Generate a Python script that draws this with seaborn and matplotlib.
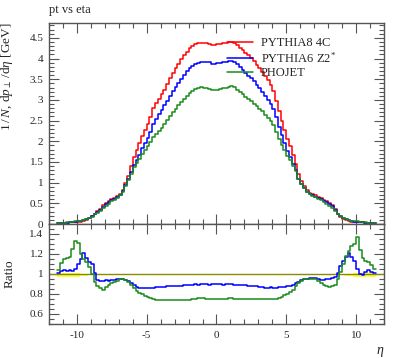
import numpy as np
import pandas as pd
import seaborn as sns
import matplotlib.pyplot as plt
from matplotlib.lines import Line2D
from matplotlib.ticker import MultipleLocator, FuncFormatter

# eta binning: 0.2 wide bins from -11.4 to 11.4
eta_edges = np.round(np.arange(-11.4, 11.41, 0.2), 2)

names = ["PYTHIA8 4C", r"PYTHIA6 Z2$^{*}$", "PHOJET"]
colors = ["#ff0000", "#0000ff", "#1a8c1a"]

# mean pt per eta bin [GeV]
pythia8 = [0.02, 0.02, 0.03, 0.03, 0.04, 0.05, 0.05, 0.06, 0.06, 0.08,
           0.10, 0.14, 0.19, 0.25, 0.31, 0.37, 0.45, 0.51, 0.55, 0.60,
           0.64, 0.68, 0.73, 0.83, 1.00, 1.17, 1.40, 1.62, 1.78, 1.95,
           2.12, 2.28, 2.42, 2.58, 2.80, 2.93, 3.02, 3.14, 3.25, 3.38,
           3.52, 3.66, 3.76, 3.88, 3.98, 4.08, 4.17, 4.25, 4.30, 4.34,
           4.37, 4.38, 4.37, 4.38, 4.36, 4.32, 4.33,
           4.34, 4.35, 4.37, 4.38, 4.39, 4.40, 4.38, 4.32, 4.26, 4.20,
           4.14, 4.08, 4.01, 3.93, 3.85, 3.77, 3.68, 3.58, 3.47, 3.37,
           3.22, 2.98, 2.72, 2.48, 2.28, 2.05, 1.88, 1.66, 1.45, 1.20,
           1.04, 0.92, 0.82, 0.76, 0.72, 0.69, 0.66, 0.63, 0.59, 0.55,
           0.50, 0.45, 0.36, 0.25, 0.18, 0.13, 0.10, 0.08, 0.06, 0.06,
           0.05, 0.05, 0.04, 0.03, 0.03, 0.02, 0.02]

pythia6 = [0.02, 0.02, 0.03, 0.03, 0.04, 0.05, 0.05, 0.07, 0.07, 0.10,
           0.12, 0.15, 0.19, 0.24, 0.29, 0.35, 0.42, 0.48, 0.52, 0.57,
           0.61, 0.65, 0.70, 0.79, 0.94, 1.08, 1.26, 1.42, 1.55, 1.68,
           1.83, 1.97, 2.09, 2.23, 2.41, 2.55, 2.66, 2.76, 2.87, 2.98,
           3.10, 3.22, 3.31, 3.42, 3.51, 3.60, 3.69, 3.76, 3.82, 3.87,
           3.90, 3.91, 3.92, 3.92, 3.91, 3.88, 3.88,
           3.89, 3.90, 3.91, 3.92, 3.93, 3.94, 3.92, 3.86, 3.79, 3.72,
           3.65, 3.59, 3.52, 3.45, 3.36, 3.28, 3.19, 3.09, 2.99, 2.90,
           2.78, 2.58, 2.35, 2.14, 1.97, 1.77, 1.63, 1.45, 1.30, 1.10,
           0.97, 0.87, 0.78, 0.73, 0.69, 0.66, 0.63, 0.60, 0.56, 0.53,
           0.48, 0.44, 0.35, 0.25, 0.20, 0.15, 0.12, 0.10, 0.07, 0.06,
           0.05, 0.05, 0.04, 0.03, 0.03, 0.02, 0.02]

phojet = [0.02, 0.02, 0.03, 0.04, 0.05, 0.06, 0.07, 0.08, 0.07, 0.09,
          0.11, 0.14, 0.18, 0.23, 0.27, 0.32, 0.38, 0.44, 0.49, 0.55,
          0.59, 0.64, 0.69, 0.78, 0.93, 1.06, 1.22, 1.38, 1.48, 1.58,
          1.69, 1.79, 1.88, 1.98, 2.10, 2.18, 2.25, 2.33, 2.41, 2.51,
          2.60, 2.71, 2.79, 2.87, 2.95, 3.02, 3.09, 3.16, 3.21, 3.26,
          3.30, 3.31, 3.30, 3.29, 3.26, 3.24, 3.24,
          3.25, 3.26, 3.28, 3.30, 3.32, 3.33, 3.31, 3.25, 3.19, 3.14,
          3.08, 3.03, 2.97, 2.91, 2.85, 2.78, 2.72, 2.64, 2.57, 2.49,
          2.39, 2.23, 2.06, 1.90, 1.80, 1.65, 1.55, 1.40, 1.28, 1.08,
          0.96, 0.87, 0.78, 0.72, 0.68, 0.65, 0.61, 0.57, 0.53, 0.48,
          0.43, 0.39, 0.32, 0.24, 0.19, 0.15, 0.12, 0.10, 0.08, 0.08,
          0.07, 0.06, 0.05, 0.04, 0.03, 0.02, 0.02]

# ratios to PYTHIA8 4C
ratio_pythia6 = [1.01, 1.03, 1.04, 1.03, 1.04, 1.03, 1.05, 1.10, 1.15, 1.21,
                 1.16, 1.12, 1.10, 1.01, 0.94, 0.93, 0.93, 0.94, 0.93, 0.94,
                 0.94, 0.95, 0.95, 0.95, 0.94, 0.93, 0.91, 0.89, 0.87, 0.86,
                 0.86, 0.86, 0.86, 0.86, 0.86, 0.87, 0.87, 0.87, 0.87, 0.88,
                 0.88, 0.88, 0.88, 0.88, 0.88, 0.89, 0.89, 0.89, 0.89, 0.90,
                 0.89, 0.90, 0.90, 0.90, 0.89, 0.90, 0.90,
                 0.90, 0.90, 0.89, 0.90, 0.90, 0.90, 0.89, 0.89, 0.89, 0.89,
                 0.89, 0.88, 0.88, 0.88, 0.88, 0.87, 0.87, 0.86, 0.86, 0.87,
                 0.86, 0.86, 0.87, 0.87, 0.87, 0.88, 0.88, 0.89, 0.91, 0.92,
                 0.94, 0.95, 0.95, 0.96, 0.96, 0.96, 0.95, 0.94, 0.94, 0.95,
                 0.95, 0.96, 0.97, 1.01, 1.08, 1.13, 1.17, 1.21, 1.17, 1.13,
                 1.05, 1.00, 0.99, 1.02, 1.04, 1.02, 1.01]

ratio_phojet = [1.04, 1.11, 1.15, 1.16, 1.17, 1.25, 1.33, 1.31, 1.20, 1.15,
                1.12, 1.07, 1.00, 0.92, 0.88, 0.86, 0.84, 0.87, 0.89, 0.91,
                0.92, 0.93, 0.95, 0.95, 0.94, 0.92, 0.89, 0.86, 0.83, 0.81,
                0.80, 0.78, 0.77, 0.76, 0.75, 0.74, 0.74, 0.74, 0.74, 0.74,
                0.74, 0.74, 0.74, 0.74, 0.74, 0.74, 0.74, 0.74, 0.75, 0.75,
                0.76, 0.76, 0.76, 0.75, 0.75, 0.75, 0.75,
                0.75, 0.75, 0.75, 0.75, 0.76, 0.76, 0.75, 0.75, 0.75, 0.75,
                0.75, 0.75, 0.75, 0.75, 0.75, 0.75, 0.75, 0.75, 0.75, 0.75,
                0.75, 0.75, 0.76, 0.77, 0.79, 0.80, 0.82, 0.84, 0.88, 0.91,
                0.93, 0.95, 0.95, 0.95, 0.95, 0.95, 0.93, 0.91, 0.89, 0.88,
                0.87, 0.88, 0.89, 0.95, 1.02, 1.10, 1.18, 1.23, 1.28, 1.30,
                1.37, 1.24, 1.16, 1.13, 1.12, 1.09, 1.05]

# reference uncertainty band, only in the outermost 11 bins on each side
band_lo_left = [0.965, 0.97, 0.965, 0.97, 0.97, 0.965, 0.97, 0.97, 0.975, 0.975, 0.98]
band_hi_left = [1.01, 1.005, 1.01, 1.005, 1.005, 1.01, 1.005, 1.005, 1.0, 1.0, 1.0]
band_lo_right = [0.98, 0.975, 0.975, 0.97, 0.97, 0.965, 0.97, 0.97, 0.965, 0.97, 0.965]
band_hi_right = [1.0, 1.0, 1.0, 1.005, 1.005, 1.01, 1.005, 1.005, 1.01, 1.005, 1.01]

sns.set_style("ticks")
plt.rcParams["font.family"] = ["Liberation Serif", "DejaVu Serif"]
plt.rcParams["mathtext.fontset"] = "custom"
plt.rcParams["mathtext.rm"] = "Liberation Serif"
plt.rcParams["mathtext.it"] = "Liberation Serif:italic"

def steps(values):
    return np.append(values, values[-1])

main_df = pd.concat([
    pd.DataFrame({"eta": eta_edges, "val": steps(v), "gen": n})
    for n, v in zip(names, [pythia8, pythia6, phojet])
])
ratio_df = pd.concat([
    pd.DataFrame({"eta": eta_edges, "val": steps(v), "gen": n})
    for n, v in zip(names[1:], [ratio_pythia6, ratio_phojet])
])
pal = dict(zip(names, colors))

fig = plt.figure(figsize=(3.97, 3.58), dpi=100)
ax = fig.add_axes([0.1234, 0.3743, 0.8438, 0.5615])
rax = fig.add_axes([0.1234, 0.0950, 0.8438, 0.2793], sharex=ax)

sns.lineplot(data=main_df, x="eta", y="val", hue="gen", palette=pal,
             drawstyle="steps-post", estimator=None, sort=False,
             legend=False, lw=1.1, ax=ax)

# ratio panel
rax.axhline(1.0, color="#8a8a00", lw=1.0, zorder=2)
nb = len(band_lo_left)
rax.fill_between(eta_edges[:nb + 1], steps(band_lo_left), steps(band_hi_left),
                 step="post", color="#ffff33", lw=0, zorder=1)
rax.fill_between(eta_edges[-nb - 1:], steps(band_lo_right), steps(band_hi_right),
                 step="post", color="#ffff33", lw=0, zorder=1)
sns.lineplot(data=ratio_df, x="eta", y="val", hue="gen", palette=pal,
             drawstyle="steps-post", estimator=None, sort=False,
             legend=False, lw=1.1, ax=rax, zorder=3)

fmt = FuncFormatter(lambda v, p: f"{round(v, 2):g}")
edge = "#555555"
for a in (ax, rax):
    a.set_xlim(-12, 12)
    a.xaxis.set_major_locator(MultipleLocator(5))
    a.xaxis.set_minor_locator(MultipleLocator(1))
    a.tick_params(which="both", direction="in", top=True, right=True,
                  color=edge, labelsize=8, width=0.8)
    a.tick_params(which="major", length=7.2)
    a.tick_params(which="minor", length=3.6)
    a.tick_params(axis="y", pad=4)
    a.tick_params(axis="x", pad=5)
    a.yaxis.set_major_formatter(fmt)
    a.xaxis.set_major_formatter(fmt)
    for s in a.spines.values():
        s.set_color(edge)
        s.set_linewidth(1.0)

ax.set_ylim(0, 4.86)
ax.yaxis.set_major_locator(MultipleLocator(0.5))
ax.yaxis.set_minor_locator(MultipleLocator(0.1))
ax.tick_params(labelbottom=False)
ax.set_xlabel("")

rax.set_ylim(0.5, 1.5)
rax.yaxis.set_major_locator(MultipleLocator(0.2))
rax.yaxis.set_minor_locator(MultipleLocator(0.05))

ax.set_ylabel(r"$1\,/\,N,\,\mathrm{d}p_{\perp}\,/\mathrm{d}\eta$ [GeV]",
              fontsize=9.5, loc="top")
ax.yaxis.set_label_coords(-0.1, 1.0)
rax.set_ylabel("Ratio", fontsize=9.5)
rax.yaxis.set_label_coords(-0.1, 0.5)
rax.set_xlabel(r"$\eta$", fontsize=10, loc="right")
ax.set_title("pt vs eta", loc="left", fontsize=9, pad=7)

handles = [Line2D([], [], color=c, lw=1.1) for c in colors]
ax.legend(handles, names, loc="upper left", bbox_to_anchor=(0.531, 0.93),
          frameon=False, fontsize=9, handlelength=2.1, handletextpad=0.6,
          labelspacing=0.15, borderpad=0, borderaxespad=0)

fig.savefig("out.png", dpi=100)
